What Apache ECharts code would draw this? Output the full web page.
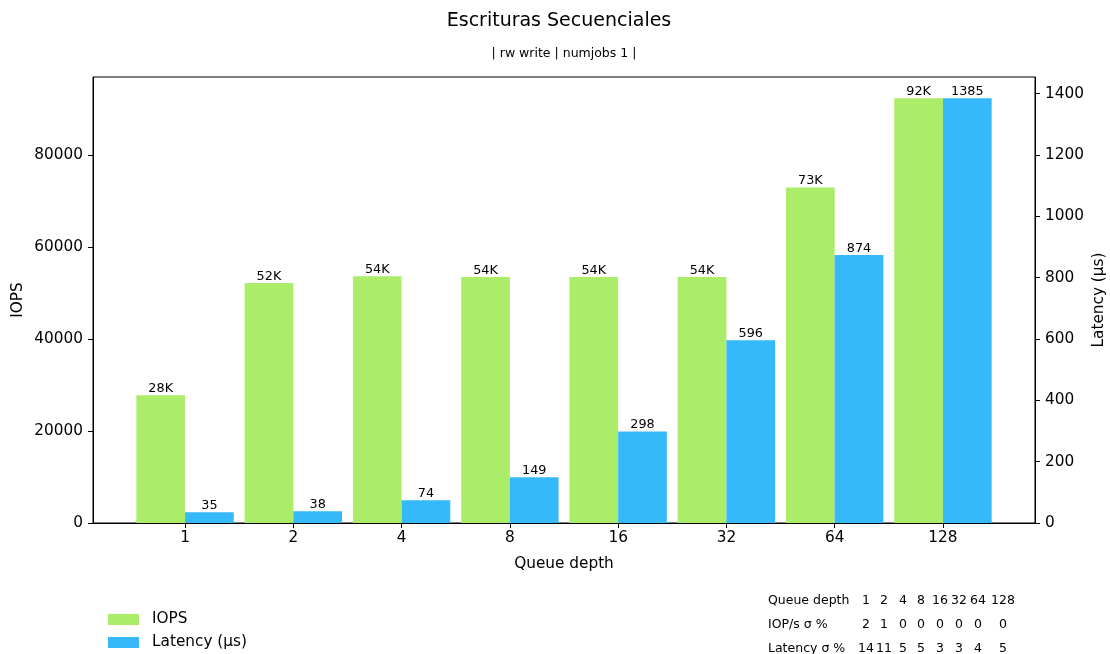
<!DOCTYPE html>
<html lang="es">
<head>
    <meta charset="UTF-8">
    <title>Escrituras Secuenciales</title>
    <script src="https://cdn.jsdelivr.net/npm/echarts@6/dist/echarts.min.js"></script>
    <style>
        html, body { margin: 0; padding: 0; background: #fff; }
        #chart { width: 1110px; height: 654px; }
    </style>
</head>
<body>
    <div id="chart"></div>
    <script>
        const queueDepths = ["1", "2", "4", "8", "16", "32", "64", "128"]
        const iopsValues = [27800, 52200, 53700, 53500, 53500, 53500, 73000, 92400]
        const latencyValues = [35, 38, 74, 149, 298, 596, 874, 1385]
        const iopsTicks = [0, 20000, 40000, 60000, 80000]
        const latencyTicks = [0, 200, 400, 600, 800, 1000, 1200, 1400]
        const iopsSigma = [2, 1, 0, 0, 0, 0, 0, 0]
        const latencySigma = [14, 11, 5, 5, 3, 3, 4, 5]

        const FONT = "DejaVu Sans"
        const GREEN = "#abed68"
        const BLUE = "#35b9fa"
        const idx = queueDepths.map((_, i) => i)

        // table under the plot, bottom right
        const colX = [866, 884, 903, 921, 940, 959, 978, 1003]
        const rows = [
            ["Queue depth", queueDepths],
            ["IOP/s \u03c3 %", iopsSigma],
            ["Latency \u03c3 %", latencySigma],
        ]
        const rowY = [601, 625, 649]
        const tableEls = []
        rows.forEach(([head, vals], r) => {
            tableEls.push({
                type: "text", x: 768, y: rowY[r],
                style: { text: head, font: `12.5px "${FONT}"`, fill: "#000", textAlign: "left", textVerticalAlign: "middle" }
            })
            vals.forEach((v, c) => {
                tableEls.push({
                    type: "text", x: colX[c], y: rowY[r],
                    style: { text: String(v), font: `12.5px "${FONT}"`, fill: "#000", textAlign: "center", textVerticalAlign: "middle" }
                })
            })
        })

        const axisFont = { fontFamily: FONT, fontSize: 15.3, color: "#000" }

        const chart = echarts.init(document.getElementById("chart"))
        chart.setOption({
            animation: false,
            backgroundColor: "#fff",
            textStyle: { fontFamily: FONT, color: "#000" },
            grid: {
                left: 93, top: 77, width: 942, height: 446,
                outerBoundsMode: "none", containLabel: false,
                show: true, borderColor: "#000", borderWidth: 1
            },
            legend: {
                orient: "vertical", left: 108, top: 612, padding: 0,
                itemWidth: 31, itemHeight: 11, itemGap: 8, icon: "rect",
                textStyle: { ...axisFont, padding: [0, 0, 0, 8] },
                data: ["IOPS", "Latency (\u00b5s)"]
            },
            xAxis: {
                type: "value", min: -0.85, max: 7.85,
                name: "Queue depth", nameLocation: "middle", nameGap: 34, nameMoveOverlap: false,
                nameTextStyle: axisFont,
                splitLine: { show: false },
                axisLine: { show: true, onZero: false, lineStyle: { color: "#000" } },
                axisTick: { show: true, length: 5, customValues: idx, lineStyle: { color: "#000" } },
                axisLabel: {
                    customValues: idx, margin: 8, ...axisFont,
                    formatter: v => queueDepths[Math.round(v)]
                }
            },
            yAxis: [
                {
                    type: "value", min: 0, max: 97020,
                    name: "IOPS", nameLocation: "middle", nameGap: 67, nameMoveOverlap: false,
                    nameTextStyle: axisFont,
                    splitLine: { show: false },
                    axisLine: { show: true, onZero: false, lineStyle: { color: "#000" } },
                    axisTick: { show: true, length: 5, customValues: iopsTicks, lineStyle: { color: "#000" } },
                    axisLabel: { customValues: iopsTicks, margin: 10, ...axisFont, formatter: v => String(v) }
                },
                {
                    type: "value", min: 0, max: 1454.25, position: "right",
                    name: "Latency (\u00b5s)", nameLocation: "middle", nameGap: 57, nameMoveOverlap: false,
                    nameTextStyle: axisFont,
                    splitLine: { show: false },
                    axisLine: { show: true, onZero: false, lineStyle: { color: "#000" } },
                    axisTick: { show: true, length: 5, customValues: latencyTicks, lineStyle: { color: "#000" } },
                    axisLabel: { customValues: latencyTicks, margin: 10, ...axisFont, formatter: v => String(v) }
                }
            ],
            series: [
                {
                    name: "IOPS", type: "bar", yAxisIndex: 0,
                    barWidth: 48.7, barGap: "0%",
                    itemStyle: { color: GREEN },
                    label: {
                        show: true, position: "top", distance: 0,
                        fontFamily: FONT, fontSize: 12.8, color: "#000",
                        formatter: p => Math.round(p.value[1] / 1000) + "K"
                    },
                    data: iopsValues.map((v, i) => [i, v])
                },
                {
                    name: "Latency (\u00b5s)", type: "bar", yAxisIndex: 1,
                    barWidth: 48.7, barGap: "0%",
                    itemStyle: { color: BLUE },
                    label: {
                        show: true, position: "top", distance: 0,
                        fontFamily: FONT, fontSize: 12.8, color: "#000",
                        formatter: p => p.value[1]
                    },
                    data: latencyValues.map((v, i) => [i, v])
                }
            ],
            graphic: [
                {
                    type: "text", x: 559, y: 21,
                    style: { text: "Escrituras Secuenciales", font: `19px "${FONT}"`, fill: "#000", textAlign: "center", textVerticalAlign: "middle" }
                },
                {
                    type: "text", x: 564, y: 54,
                    style: { text: "| rw write | numjobs 1 |", font: `12.5px "${FONT}"`, fill: "#000", textAlign: "center", textVerticalAlign: "middle" }
                },
                ...tableEls
            ]
        })
    </script>
</body>
</html>
